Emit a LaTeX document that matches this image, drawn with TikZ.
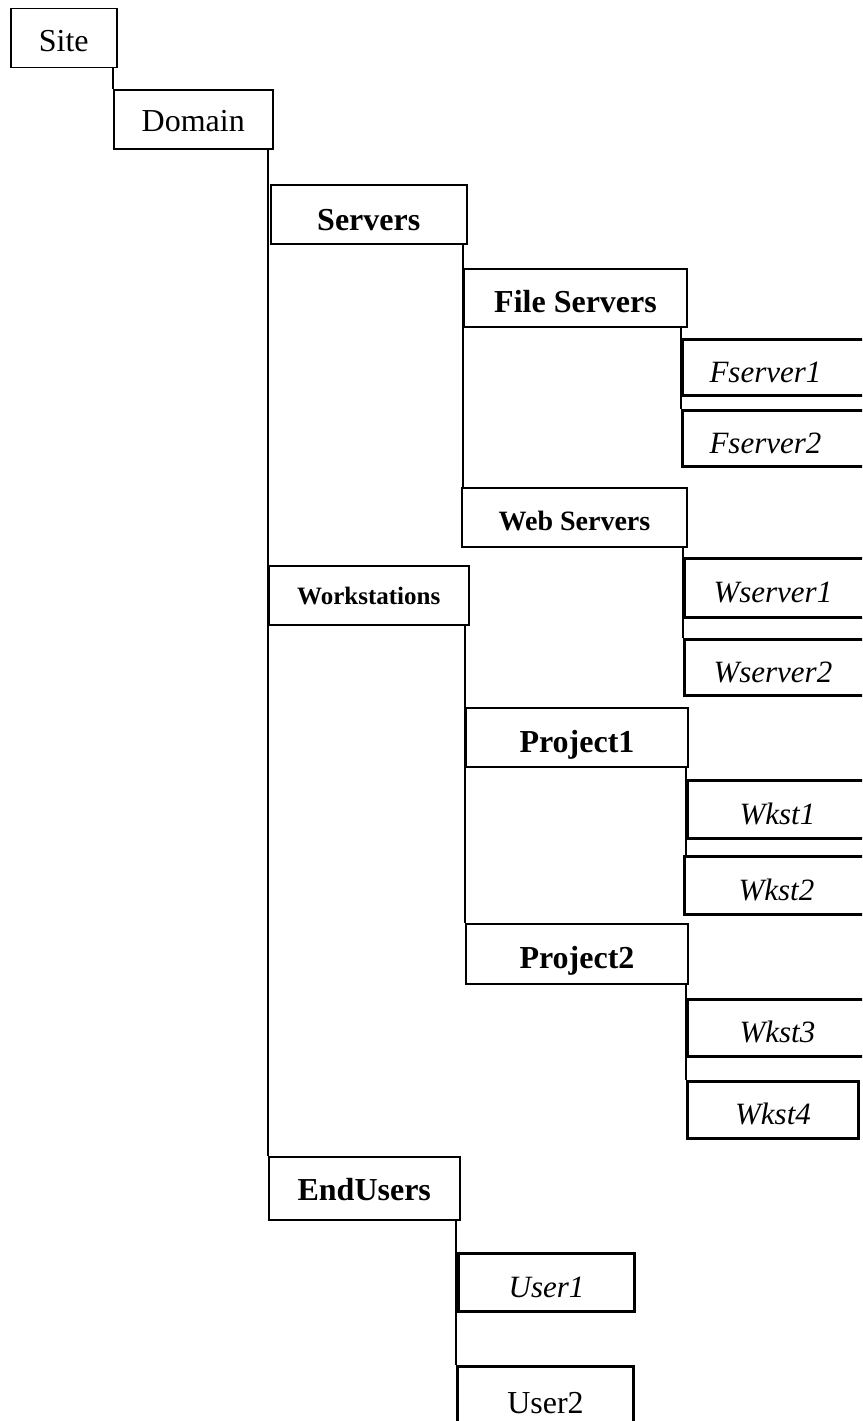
\documentclass[tikz,border=0pt]{standalone}
\usepackage{fontspec}
\setmainfont{Liberation Serif}
\tikzstyle{bx}=[draw, anchor=north west, inner sep=0, line width=1.5pt, text height=27, text depth=0, font=\fontsize{32}{36}\selectfont]
\tikzstyle{grp}=[bx, line width=2pt, text height=29, font=\fontsize{32}{36}\selectfont\bfseries]
\tikzstyle{leaf}=[bx, line width=3pt, text height=29, font=\fontsize{31}{36}\selectfont\itshape, align=left, text width=150]
\tikzstyle{link}=[line width=1.5pt]

\begin{document}
\begin{tikzpicture}[x=1pt, y=-1pt]
\useasboundingbox (0,0) rectangle (862,1421);
\clip (0,0) rectangle (862,1421);
\node at (10,8)[bx, minimum width=106, minimum height=59](site){Site};
\node at (113,89)[bx, minimum width=159, minimum height=59, text height=25](dom){Domain};
\node at (270,184)[bx, minimum width=196, minimum height=59, text height=32, font=\fontsize{32}{36}\selectfont\bfseries](srv){Servers};
\node at (463,268)[grp, minimum width=223, minimum height=58](fsrv){File Servers};
\node at (681,338)[leaf, minimum height=56, inner xsep=27](fs1){Fserver1};
\node at (681,409)[leaf, minimum height=56, inner xsep=27](fs2){Fserver2};
\node at (461,487)[grp, minimum width=225, minimum height=59, text height=25, font=\fontsize{28}{32}\selectfont\bfseries](wsrv){Web Servers};
\node at (683,557)[leaf, minimum height=59, inner xsep=29](ws1){Wserver1};
\node at (683,638)[leaf, minimum height=56, inner xsep=29](ws2){Wserver2};
\node at (268,565)[bx, minimum width=200, minimum height=59, text height=19, font=\fontsize{25}{30}\selectfont\bfseries](wks){Workstations};
\node at (465,707)[grp, minimum width=222, minimum height=59](pr1){Project1};
\node at (686,779)[leaf, minimum height=58, inner xsep=52](wk1){Wkst1};
\node at (683,855)[leaf, minimum height=58, inner xsep=54](wk2){Wkst2};
\node at (465,923)[grp, minimum width=222, minimum height=60](pr2){Project2};
\node at (686,998)[leaf, minimum height=57, inner xsep=52](wk3){Wkst3};
\node at (686,1080)[leaf, minimum height=57, text width=171, inner xsep=0, align=center](wk4){Wkst4};
\node at (268,1156)[bx, minimum width=191, minimum height=63, text height=25, font=\fontsize{32}{36}\selectfont\bfseries](usr){EndUsers};
\node at (457,1252)[leaf, minimum height=58, text width=176, inner xsep=0, align=center](u1){User1};
\node at (456,1365)[leaf, minimum height=66, text width=176, inner xsep=0, align=center, text height=27, font=\fontsize{32}{36}\selectfont](u2){User2};
\draw[link] (dom.north west)--(dom.north west |- site.south);
\draw[link] (usr.north west)--(usr.north west |- dom.south);
\draw[link] (fsrv.north west |- srv.south)--(fsrv.north west |- wsrv.north);
\draw[link] (fs1.north west |- fsrv.south)--(fs2.north west);
\draw[link] (ws1.north west |- wsrv.south)--(ws2.north west);
\draw[link] (pr2.north west |- wks.south)--(pr2.north west);
\draw[link] (wk1.north west |- pr1.south)--(wk1.north west |- wk2.north);
\draw[link] (wk3.north west |- pr2.south)--(wk4.north west);
\draw[link] (u2.north west |- usr.south)--(u2.north west);
\end{tikzpicture}
\end{document}
